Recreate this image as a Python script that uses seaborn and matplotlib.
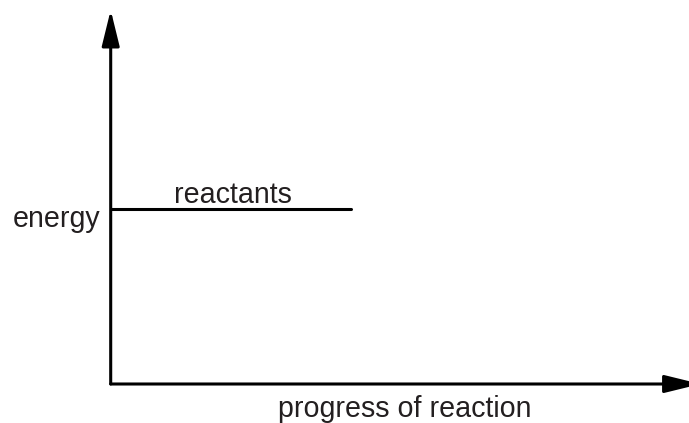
"""Energy level diagram: reactants only, with arrowed energy / progress axes."""
import matplotlib

matplotlib.use("Agg")
import matplotlib.pyplot as plt
import pandas as pd
import seaborn as sns

# reactants energy level (arbitrary units, axes run 0..10)
progress = [0.0, 4.15]
energy = [4.67, 4.67]
level_label = "reactants"
x_label = "progress of reaction"
y_label = "energy"

INK = "#231f20"
LINE = "#000000"
FS = 20.6

sns.set_theme(style="white")
plt.rcParams["font.family"] = ["Liberation Sans", "DejaVu Sans"]

fig = plt.figure(figsize=(6.89, 4.23), dpi=100)
W, H = 689, 423
left, bottom = 110.7, 39
ax = fig.add_axes([left / W, bottom / H, (W - left) / W, (H - 10 - bottom) / H])

df = pd.DataFrame({"progress": progress, "energy": energy})
sns.lineplot(data=df, x="progress", y="energy", color=LINE, lw=2.2, ax=ax)

ax.set_xlim(0, 10)
ax.set_ylim(0, 10)
ax.set_xticks([])
ax.set_yticks([])
for s in ax.spines.values():
    s.set_visible(False)

# axes as arrows
arrow = dict(arrowstyle="-|>,head_length=1.1,head_width=0.27", lw=2.2,
             color=LINE, shrinkA=0, shrinkB=0, mutation_scale=20)
ax.annotate("", xy=(0, 1), xytext=(0, 0), xycoords="axes fraction",
            arrowprops=arrow, annotation_clip=False)
ax.annotate("", xy=(1.02, 0), xytext=(0, 0), xycoords="axes fraction",
            arrowprops=arrow, annotation_clip=False)

ax.text(sum(progress) / 2 + 0.04, energy[0] + 0.17, level_label, ha="center",
        va="baseline", fontsize=FS, color=INK)

ax.set_xlabel(x_label, fontsize=FS, color=INK, va="baseline")
ax.xaxis.set_label_coords(0.508, -0.088)
ax.set_ylabel(y_label, fontsize=FS, color=INK, rotation=0, ha="right",
              va="baseline")
ax.yaxis.set_label_coords(-0.0185, 0.42)

fig.savefig("out.png", dpi=100)
